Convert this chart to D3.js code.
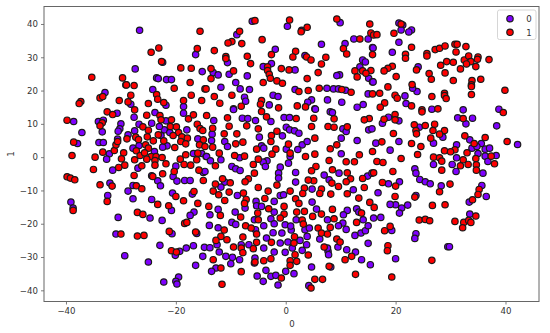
<!DOCTYPE html>
<html>
<head>
<meta charset="utf-8">
<script src="https://cdn.jsdelivr.net/npm/d3@7"></script>
<style>
    html, body { margin: 0; padding: 0; background: #fff; }
    svg { display: block; font-family: "DejaVu Sans", sans-serif; }
</style>
</head>
<body>
<div id="chart"></div>
<script>
const xTicks = [-40, -20, 0, 20, 40];
const yTicks = [-40, -30, -20, -10, 0, 10, 20, 30, 40];
const labels = ["0", "1"];
const colors = ["#7f00ff", "#ff0000"];

// class 0
const points0 = [
[-26.6,38.1],[-16.4,30.8],[-27.4,26.5],[-15.2,25.7],[-23.5,23.8],[-23.2,23.6],[-21.7,23.3],[-20.8,23.3],[-24.2,20.3],[-29.1,21.7],[-32.9,19.4],[-21.8,15.6],[-28.2,15.9],[-22.4,28.5],[-18.6,15.2],
[-6.1,40.8],[0.3,39.3],[9.9,40.4],[2.9,38.1],[-8.9,36.8],[12.4,35.5],[15,35.5],[10.8,34.1],[6.5,33.9],[15.8,32.9],[-1.9,32.4],[3.5,30.5],[14,29.2],[14.5,28.6],[-10.6,28.4],[-4.1,27.2],[-2.6,28.1],[1.7,26.2],[13.5,27.1],[15.1,23.7],[15.8,22.6],[-13.2,25.4],[-12.3,24.7],[-10.3,24.9],[-7,24.4],[9.8,24.7],[9.3,24.5],[-9.1,22.4],[-8.3,20.5],[-6.6,20.3],[-11.8,21],[1.7,20.3],[7.5,20.7],[8.7,20.5],[9.6,20.5],[10.9,20.1],[15,19],[-2.3,18.6],[-1.4,18.2],[-7.5,18],[-7.3,16.8],[-3,15.7],[4.7,17.2],[4,16.5],[7.6,17.2],[10.2,16.5],[14.1,15.8],[13,15],[5.3,14.5],[-9.5,14.5],
[20.6,40.3],[21.3,39.7],[21,38.2],[22.9,38.2],[22.4,37.6],[20.6,34.5],[15.9,32.8],[19.4,31.5],[24.1,27.1],[15.9,22.6],[23.9,19.7],[21.7,18.4],[21.9,16.1],[23.1,20.7],[26.6,14.4],[32.3,14.2],[38.8,14.4],
[-38.6,10.7],[-37.1,7.4],[-37.9,4.1],[-30.7,13.2],[-34.1,10.7],[-33.2,11.1],[-33.4,7.6],[-30,10],[-30.2,8.5],[-30.5,7.8],[-28.7,6.7],[-30.6,5.4],[-34,4.4],[-33.2,4.4],[-27.6,12],[-26.7,9.9],[-27.5,7.9],[-24.4,10.2],[-23.8,13.4],[-22.1,8.2],[-23,9.2],[-22.7,6.5],[-21.1,7.4],[-18,8.2],[-18.6,13.2],[-21.8,10.9],[-16,5.5],[-27.8,2.7],[-26.7,3.5],[-21.6,3.4],[-22.4,3],[-23.9,1.7],[-32.1,1],[-32.6,-0.6],[-16.8,1.1],[-15.3,1.1],[-14.5,0.2],[-26.9,-3.3],[-31.5,-3.9],[-20,-2.7],[-15,-4.6],[-24.4,-5.6],[-23.3,-7.1],[-22.8,-8.6],[-20.5,-5.8],[-19.8,-7.2],[-18.4,-7],[-17.4,-7],[-27.8,-8.5],[-28.7,-10.2],[-32.4,-11.5],[-27.8,-12.5],[-24.4,-12.7],[-39.1,-13.5],[-20.6,-10.8],[-17,-11.1],[-32,-7.8],
[-9.5,14.3],[-13.1,11],[-13.4,6.9],[-13.5,5],[-11.1,4.7],[-10.6,3.2],[-14.4,0.2],[-13.7,-1.1],[-11.8,-0.8],[-7.9,11.7],[-6.9,11.6],[-5.5,11],[-0.3,11.9],[0.7,11.9],[-2.7,10.7],[0.1,9],[0.7,8.2],[1.6,7.9],[2.4,7.2],[-4.8,6],[-0.6,6.4],[-4.4,3.4],[-4,2.7],[0.1,2.4],[3,3.7],[2.2,2.3],[3.9,4.7],[10.1,5.7],[13,5],[15.1,8.2],[15.7,8.5],[10.4,8.5],[11,7.7],[8.1,13.6],[8.5,13.4],[5.4,14.4],[10.1,1],[-3.4,-1.1],[-4.1,-1.5],[-3.7,-2.8],[0.8,0.2],[0.5,-1.8],[-8.4,-0.2],[-9.8,-2.8],[-9.1,-3.5],[-8.3,-4],[-1,-3],[-1.3,-4.8],[-1.3,-6.3],[1.8,-4.6],[-14.7,-4.3],[1.8,-7.5],[7,-5.4],[9.7,-4.8],[7.9,-6.8],[14.9,-5.7],[15.7,-4.8],[12.3,-9.8],[4.8,-9.6],[-2.1,-13.3],[-1,-11.5],[-0.4,-11.3],[-8.8,-11.5],[-11.1,-7.5],[-11.8,-9],[-5.4,-13.3],[-5.3,-14.6],[-4.4,-14.8],[-7.4,-15.3],[4.8,-13.5],
[18.7,12],[17.6,10.2],[20.6,10.9],[31.3,11.8],[34,11.7],[32.8,10],[38.4,9.4],[24.3,9],[28.6,6],[26.9,4.2],[20.6,4.7],[16.4,4.2],[19,2.1],[31.1,3.7],[33.5,5.2],[35.6,4.1],[33.9,2.7],[34.8,3.2],[36.3,2.4],[37.1,2.7],[35,1.1],[36.3,0.3],[38.3,0.5],[36.8,-1.3],[31.1,-0.2],[30.3,-2.2],[31,-4.3],[42.2,3.8],[35.9,-4.8],[26.9,-2.2],[23.5,-3.5],[23.7,-4.8],[24.4,-6.7],[25.4,-7.4],[26.3,-8],[28.3,-8.6],[20.7,-7.4],[18.7,-8],[16.8,-10.7],[23.7,-11.5],[35.7,-8.5],[36.5,-11.8],[33.4,-13.5],[22.2,-14.4],[20,-14.3],[19,-14.2],[21.1,-15.3],
[-30.5,-18.1],[-24.7,-18.3],[-22.5,-19],[-30.9,-23.1],[-20.7,-23],[-22.9,-26.5],[-29.3,-29.6],[-25,-31.5],[-18.1,-27.3],[-16.8,-26.6],[-14.8,-27.1],[-19.3,-28.3],[-20.1,-29.5],[-15.1,-29.8],[-16.4,-32.5],[-22.2,-37.5],[-19.5,-36],[-20,-37.3],[-19.8,-38.1],[-16.7,-16.5],[-17.4,-17.5],[-20.8,-16],[-13.9,-20.5],[-16.2,-22.9],[-38.7,-15.3],
[-13.8,-17.3],[-12.3,-15.7],[-12.3,-21.2],[-9.8,-19.6],[-9.1,-20.2],[-9.2,-16.5],[-5.7,-18.8],[-5.5,-21.8],[-2.1,-16.5],[-2.7,-18.5],[-4,-20.6],[-2.1,-20],[-0.1,-20.3],[1,-21.9],[-2.3,-22.7],[-0.7,-22.8],[-3.5,-24.3],[3.9,-23.8],[2.6,-25],[0.4,-25.5],[-1,-25.8],[3.8,-26.3],[6.2,-24.6],[1.2,-27.3],[3,-28],[-0.1,-28.6],[-2.1,-28.5],[-4,-27.3],[-6.7,-26.3],[-8.1,-26.3],[-12.5,-26.3],[-13.8,-27.2],[-12.1,-28.5],[-10.9,-29.8],[-9.7,-30.1],[-8.4,-30.8],[-10,-32],[-12.7,-33.3],[-13.5,-34.3],[-5.6,-30.3],[-5.7,-31.8],[-3.6,-34],[-2.7,-35.8],[-1.8,-35.5],[0,-34.3],[1.5,-35],[-5.2,-35.7],[-4.1,-37.3],[-1.4,-38.4],[4.7,-33],[7.7,-28.3],[7.8,-29.3],[7.6,-27.3],[9.5,-27],[11.1,-27.8],[12.7,-28.5],[13.8,-30.8],[15.4,-32.3],[15,-25.9],[12.6,-23.5],[13.7,-22.8],[14.5,-22.1],[15,-20.6],[14.1,-18.8],[16,-18.3],[10.4,-19.8],[9.6,-20.6],[11,-21.7],[7.6,-18.8],[11.2,-16],[10.5,-17.3],[12.9,-15.5],[13.3,-16.5],[5.6,-15.6],[1.9,-18.8],[3.5,-21.8],[4.3,-21.3],[0.9,-20.7],[8.2,-33],[4.2,-38.6],
[17.3,-18.1],[20.7,-16.8],[19.3,-22],[23.7,-23],[23.5,-24.4],[29.5,-26.9],[29.8,-26.9],[20,-30.5],[33.5,-17.1]
];

// class 1
const points1 = [
[-15.6,37.8],[-24.5,31.5],[-23.1,32.8],[-16.1,32.6],[-22.6,28.7],[-35.3,24],[-29.7,23.8],[-29,21.7],[-27.6,21.5],[-19.1,26.8],[-17.2,26.7],[-17.4,22.4],[-20.3,20.7],[-14.7,20.5],[-23.5,18.8],[-33.8,17.8],[-33.3,18.2],[-28.2,18.6],[-17.2,18.6],[-30.3,17],[-28.7,16.6],[-23.3,17.4],[-22.2,16.4],[-25,16.1],[-18.6,17],[-15.3,17],[-37.3,16.7],[-37.6,16.1],
[-5.6,41],[0.7,41.2],[9.3,41.5],[3.9,39],[2.8,37.7],[15.3,40],[15.5,37.3],[-8.4,37.8],[-9.8,34.7],[-10.5,34.3],[-8,34.1],[-4.3,35.3],[13.5,35.5],[16,36.7],[10.5,32.6],[11.1,31],[1.8,31.8],[-2.6,30.8],[1.3,30.1],[3.8,30.1],[4.6,29.2],[7.3,30],[15.8,30.8],[-13,32],[-10.9,30.2],[-10.9,29.6],[-7,30.3],[-6.4,28.1],[6.5,28],[5.9,25.4],[-0.8,26.6],[0.6,26.2],[-3.3,27.1],[-3.3,26],[-3,24.9],[-2.8,23.7],[-1.6,22.9],[-0.6,22.2],[-4.1,22.4],[3.9,23.6],[-13.6,26.6],[-9.5,25.9],[-13.6,23.6],[12.6,25.9],[14,25.9],[13,24.1],[15.5,26],[14.6,25.2],[-14.5,20.5],[6.1,20.7],[10.2,20.3],[11.9,19.5],[4.1,20],[2.4,19.7],[-13,18.2],[-9.8,18.6],[15.8,19],[-4.4,17],[-4.6,15.9],[-12,16.2],[-1.3,14.8],[2.1,15.4],[3.6,15.1],[-8.1,15.3],
[21,40],[19.7,37.2],[16.6,36.8],[22.9,33],[21.8,30.9],[21.8,29.7],[25.7,31.1],[25.7,30.4],[27.2,32.3],[28,32.7],[29,33.4],[30.8,33.9],[31.2,33.9],[32.8,33.2],[31,31.6],[29.3,28.7],[30.5,28.5],[28.2,27.6],[32.5,29.2],[33.3,30.4],[33.7,28.7],[32.9,28],[35,30.1],[34.9,29.4],[34.6,27.2],[37,29.3],[31.8,26.5],[23.8,26.2],[19.4,27.3],[18.6,26.7],[17.9,25.9],[20.1,24.2],[26.1,25.1],[26.5,23.4],[29,25.3],[30.5,23],[33.9,23],[33.8,21.7],[33.8,21.2],[35.5,23.4],[23,21.8],[18.6,21.1],[39.9,20.1],[33.8,18.8],[28.9,19.2],[28.9,18.5],[29.2,17.6],[26.6,18.2],[19.9,18.6],[20.3,17.7],[17.1,19.2],[18,16.3],[17.2,15],[22.9,15.4],[27.7,14.5],[24.8,14.2],
[-39.8,11.1],[-32.5,13.6],[-31.5,12.8],[-27.5,14.2],[-33.4,10.3],[-33.8,9.4],[-25.3,12.6],[-22.9,12.5],[-20.8,11.2],[-17.7,11.5],[-16.8,12.7],[-16.1,9.9],[-15.6,8.6],[-15.1,8],[-22.7,11.2],[-26,9.1],[-25,8.1],[-21,9.2],[-19.9,9.1],[-19.5,7.4],[-20.5,6.5],[-23.2,6.7],[-28.9,5.5],[-27.3,6],[-26.8,5.3],[-25.2,6.1],[-24.1,4.9],[-25.5,3.7],[-22.2,4.9],[-18.9,6.1],[-17.9,5.7],[-19.1,4.7],[-18.2,4],[-20.2,2.9],[-15,5.2],[-15.7,3.7],[-14.7,3.2],[-25,2.7],[-27.2,1.9],[-38.6,4.5],[-38.9,0.5],[-34.7,0],[-33.3,1.5],[-31.2,2],[-30.9,3.7],[-30.6,4.7],[-29.5,1.3],[-29.9,-0.5],[-26.5,0.5],[-25.7,1.3],[-24.5,0.2],[-23.6,0.2],[-22.5,-0.1],[-27.5,-0.8],[-25.3,-0.6],[-23.8,-1],[-23.8,-2.4],[-16,1.2],[-19.2,-0.6],[-18.2,0.7],[-16.2,-0.8],[-18.5,-2.2],[-17.3,-2.4],[-21.8,-2],[-26.2,-2.6],[-29.3,-2.4],[-30.4,-3.1],[-35,-3.7],[-15.8,-3.9],[-20.3,-4.3],[-22.4,-5],[-27.6,-5.5],[-24.2,-5.8],[-39.8,-5.9],[-39.2,-6.3],[-38.4,-6.8],[-15,-7],[-33.8,-8.3],[-31.6,-8.7],[-27.2,-8.6],[-26.2,-9.5],[-16.7,-10.3],[-20,-11.8],[-18.6,-13.1],[-16,-13.9],[-23.3,-14.2],[-21.3,-14.6],[-32.5,-13.3],
[-14.4,12.5],[-13.3,8.7],[-10.6,11.8],[-10.3,9.3],[-7.1,9.4],[-5,8.5],[-8.9,7],[-11.2,7],[-7.8,4.5],[-9.1,4],[-13.3,3],[-12.1,1.2],[-5.3,2.4],[-2.6,6.5],[-1.6,7.8],[-2.7,4.7],[-1.8,2.4],[-2.5,0.9],[0.5,3.9],[0.8,1.2],[5.3,5.7],[4.7,9.2],[5.1,11.7],[1.9,11.6],[7.7,9.2],[8.8,9],[8.8,11.5],[11.2,9.1],[15.2,11.6],[14.3,11.2],[8.1,2.5],[9.3,3.7],[15.8,1.7],[13.4,0.7],[12.5,-1.4],[11,-1.4],[7.9,-1],[5.3,0.9],[3.6,0.2],[-9.3,0.5],[-7.5,0.3],[-5,-0.6],[-5.9,-2.2],[-12.8,-2.6],[5.5,-2.8],[4.7,-4.1],[8.5,-3.8],[-5.7,-4.8],[-6.8,-6.5],[-7.4,-7.4],[-11.5,-6.5],[-10.1,-7.7],[-12.8,-8.1],[-13.2,-10.2],[-12.2,-11.3],[-10.3,-10.5],[-7.7,-10.8],[-5,-9.1],[-3.2,-10.2],[-3.8,-12.4],[-7.2,-12.7],[-7.5,-13.9],[-11.1,-13],[-14,-14.8],[-1.6,-8.4],[0.8,-10.2],[3.4,-9.3],[3.1,-10.9],[6.5,-9.6],[6.2,-10.9],[8.2,-11.1],[9.6,-8.8],[11.2,-4.7],[11.8,-6.5],[11,-7.4],[8.4,-7.8],[14,-6.4],[14.3,-9.1],[11.2,-11],[13.3,-12.3],[15.3,-13.6],[1.8,-12.5],[2.4,-13.9],[5.1,-7.1],[4.1,-6.9],[-4.4,13.7],[-3.5,12.1],[16,-4.7],
[24.8,13.6],[19.9,12.8],[17.9,11.4],[19.9,11.2],[32.3,11.6],[39.6,13.4],[23.4,9.7],[25.4,9.5],[27.1,9.9],[28.9,8],[26.8,8],[23.7,8],[23.8,7],[19.6,7.1],[28,6.9],[26.4,5.7],[32.6,6.4],[36.3,5.9],[40.3,4.7],[34.3,4.1],[17.5,4.6],[22.9,4.1],[24.6,3.2],[28.9,1.9],[30.8,2.2],[30,1.6],[33,1.3],[24,0.8],[26.9,0],[28,-0.2],[28.4,-1.2],[21,-0.4],[34.6,-0.4],[37.4,0.3],[32.3,-0.8],[33.2,-2.2],[34.7,-2.3],[34.7,-3.9],[31.8,-2.6],[38,-2],[16.6,-1.3],[17.7,-1.6],[28.4,-3.9],[19.5,-4.3],[17.6,-7.6],[20,-8.7],[29.9,-8.1],[28,-10.4],[19.9,-11.8],[23.5,-12],[35.2,-9.7],[35,-11.2],[34,-12.8],[26.7,-14.5],[29,-14.3],
[-38.7,-16],[-27,-16.6],[-26,-17.2],[-30,-23.1],[-27,-23.7],[-25.8,-23.5],[-21.2,-22.3],[-18.4,-19.9],[-18,-19.6],[-16.4,-22.5],[-20.8,-28.1],[-19.9,-28.5],
[-11.9,-17.5],[-5.1,-16.8],[-3.1,-15.5],[-5,-18.8],[-8.2,-18],[-0.3,-14.8],[-0.3,-17.1],[-1,-18.3],[2,-16.5],[3.4,-16.3],[6.5,-17.1],[8.5,-15.7],[13.8,-16.8],[8.8,-18.5],[12.9,-19.6],[4.9,-17.8],[3,-18.9],[3.2,-20.1],[-7.3,-20.6],[-6.3,-21.3],[-5.3,-23.1],[-11.2,-21.9],[-11.8,-23.8],[-12.7,-25],[-10.7,-24.8],[-7.8,-24],[-9.5,-27],[-8.1,-27.3],[-7.8,-28.7],[-13.2,-30.8],[-11.8,-33.3],[-8.1,-34.4],[-11.6,-38.2],[-5.3,-25.6],[-5.9,-27.5],[-2.6,-25.6],[-2.7,-30.5],[-4,-31.1],[-5.6,-31.5],[1.6,-23.9],[1.5,-25.8],[1.7,-29.3],[0.8,-31.1],[0.8,-32.5],[2,-31.3],[4.1,-29.4],[5.9,-21.3],[6.5,-22.8],[8.1,-21.1],[7.6,-23.1],[9.3,-24.6],[9.9,-25.5],[7,-27],[10.8,-30.8],[12,-29.8],[7.9,-32.8],[12.7,-35.2],[5.3,-36.7],[6.7,-36.7],[4.6,-39.3],[-0.8,-36.3],
[16.1,-15.1],[24.3,-18.9],[25.4,-18.7],[26.2,-19.1],[30.8,-19.3],[32.4,-19.6],[33.3,-19],[33.7,-19.6],[34.6,-17.7],[32.2,-21.2],[19,-20.8],[18,-22.1],[18.6,-26.6],[18.5,-28.1],[26.6,-31],[19.3,-36]
];

const width = 550, height = 333;
const margin = { left: 44, right: 11, top: 6.5, bottom: 31.5 };

const svg = d3.select("#chart")
    .append("svg")
    .attr("width", width)
    .attr("height", height);

const x = d3.scaleLinear()
    .domain([-44, 46.1])
    .range([margin.left, width - margin.right]);

const y = d3.scaleLinear()
    .domain([-43.36, 45.25])
    .range([height - margin.bottom, margin.top]);

const xAxis = svg.append("g")
    .attr("transform", `translate(0,${height - margin.bottom})`)
    .call(d3.axisBottom(x).tickValues(xTicks).tickSize(3).tickPadding(3).tickFormat(d => String(d).replace("-", "\u2212")));

const yAxis = svg.append("g")
    .attr("transform", `translate(${margin.left},0)`)
    .call(d3.axisLeft(y).tickValues(yTicks).tickSize(3).tickPadding(3).tickFormat(d => String(d).replace("-", "\u2212")));

svg.selectAll(".domain").remove();
svg.selectAll(".tick line").attr("stroke", "#444").attr("stroke-width", 0.7);
svg.selectAll(".tick text")
    .attr("fill", "#333")
    .style("font-family", "'DejaVu Sans'")
    .style("font-size", "8.6px");

// class 0 first, class 1 ends up on top
[points0, points1].forEach((points, i) => {
    svg.append("g")
        .selectAll("circle")
        .data(points)
        .join("circle")
        .attr("cx", d => x(d[0]))
        .attr("cy", d => y(d[1]))
        .attr("r", 3.2)
        .attr("fill", colors[i])
        .attr("stroke", "#1a1a1a")
        .attr("stroke-width", 1.2);
});

svg.append("rect")
    .attr("x", margin.left)
    .attr("y", margin.top)
    .attr("width", width - margin.left - margin.right)
    .attr("height", height - margin.top - margin.bottom)
    .attr("fill", "none")
    .attr("stroke", "#666")
    .attr("stroke-width", 1);

svg.append("text")
    .attr("x", 292)
    .attr("y", 327)
    .attr("text-anchor", "middle")
    .attr("fill", "#333")
    .style("font-size", "8.6px")
    .text("0");

svg.append("text")
    .attr("transform", "translate(14,154) rotate(-90)")
    .attr("text-anchor", "middle")
    .attr("fill", "#333")
    .style("font-size", "8.6px")
    .text("1");

const legend = svg.append("g");

legend.append("rect")
    .attr("x", 497.5)
    .attr("y", 10)
    .attr("width", 38.5)
    .attr("height", 29.5)
    .attr("rx", 2)
    .attr("fill", "#fff")
    .attr("fill-opacity", 0.8)
    .attr("stroke", "#ccc")
    .attr("stroke-width", 0.8);

legend.selectAll("circle")
    .data(labels)
    .join("circle")
    .attr("cx", 510)
    .attr("cy", (d, i) => 18.7 + i * 13.6)
    .attr("r", 3.2)
    .attr("fill", (d, i) => colors[i])
    .attr("stroke", "#1a1a1a")
    .attr("stroke-width", 1.2);

legend.selectAll("text")
    .data(labels)
    .join("text")
    .attr("x", 529)
    .attr("y", (d, i) => 21.9 + i * 13.6)
    .attr("text-anchor", "middle")
    .attr("fill", "#333")
    .style("font-size", "8.6px")
    .text(d => d);
</script>
</body>
</html>
